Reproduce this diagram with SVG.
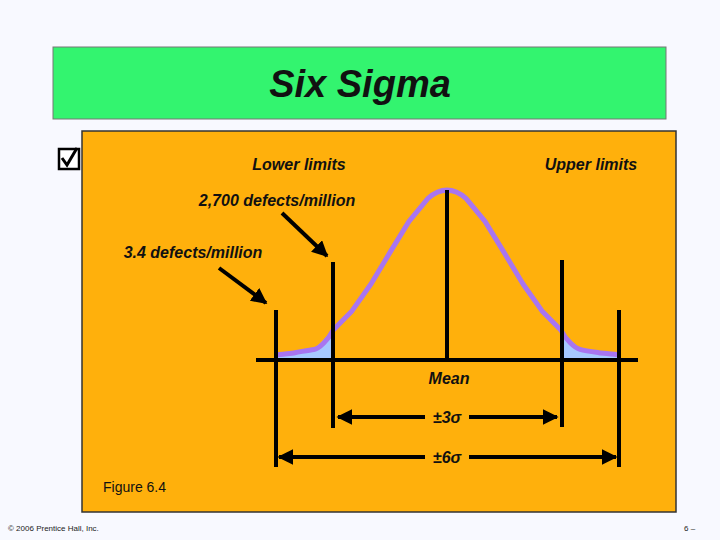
<svg xmlns="http://www.w3.org/2000/svg" width="720" height="540" viewBox="0 0 720 540">
<style>
.t{font-family:"Liberation Sans",Arial,sans-serif;font-weight:bold;font-style:italic;fill:#111}
.ln{stroke:#000;stroke-width:4;fill:none}
</style>
<defs><marker id="ah" viewBox="0 0 10 10" refX="9" refY="5" markerWidth="4" markerHeight="4" orient="auto"><path d="M0,0L10,5L0,10z" fill="#000"/></marker></defs>
<rect width="720" height="540" fill="#f8f9ff"/>
<g id="title"><rect x="53" y="47" width="613" height="72" fill="#33f46f" stroke="#777" stroke-width="1"/>
<text x="360" y="97" class="t" font-size="38" text-anchor="middle">Six Sigma</text></g>
<g id="check"><rect x="59" y="149" width="20" height="20" fill="#fff" stroke="#000" stroke-width="2.5"/><path d="M62,158 L67,165 L77,148" stroke="#000" stroke-width="3" fill="none"/></g>
<g id="panel"><rect x="82" y="131" width="594" height="381" fill="#ffb00c" stroke="#333" stroke-width="1.5"/></g>
<g id="tails" fill="#a6c8ff">
<path d="M276,355 L295,352.7 314,349.4 333,330.3 L333,360 L276,360Z"/>
<path d="M619,355 L599,352.7 580,349.4 561,330.3 L561,360 L619,360Z"/>
</g>
<g id="curve"><path d="M276,355 C281,354 290,353.5 295,352.7 S309,350 314,349.4 S328,340 333,330.3 L352,310.9 371,284 390,252.4 409,221.4 428,198.4 Q447,182 466,198.4 L485,221.4 504,252.4 523,284 542,310.9 561,330.3 C566,340 575,348 580,349.4 S594,352 599,352.7 S614,354 619,355" fill="none" stroke="#a875f0" stroke-width="5" stroke-linejoin="round"/></g>
<g id="connectors">
<line x1="256" y1="360" x2="638" y2="360" class="ln"/>
<line x1="447" y1="190" x2="447" y2="360" class="ln"/>
<line x1="276" y1="310" x2="276" y2="467" class="ln"/>
<line x1="333" y1="262" x2="333" y2="428" class="ln"/>
<line x1="562" y1="260" x2="562" y2="427" class="ln"/>
<line x1="619" y1="310" x2="619" y2="467" class="ln"/>
<line x1="425" y1="417" x2="338" y2="417" class="ln" marker-end="url(#ah)"/>
<line x1="469" y1="417" x2="557" y2="417" class="ln" marker-end="url(#ah)"/>
<line x1="425" y1="457" x2="279" y2="457" class="ln" marker-end="url(#ah)"/>
<line x1="469" y1="457" x2="616" y2="457" class="ln" marker-end="url(#ah)"/>
<line x1="282" y1="213" x2="327" y2="256" class="ln" stroke-width="3" marker-end="url(#ah)"/>
<line x1="219" y1="268" x2="266" y2="303" class="ln" stroke-width="3" marker-end="url(#ah)"/>
</g>
<g id="labels" font-size="16">
<text x="299" y="170" class="t" text-anchor="middle">Lower limits</text>
<text x="591" y="170" class="t" text-anchor="middle">Upper limits</text>
<text x="277" y="206" class="t" text-anchor="middle">2,700 defects/million</text>
<text x="193" y="258" class="t" text-anchor="middle">3.4 defects/million</text>
<text x="449" y="384" class="t" text-anchor="middle">Mean</text>
<text x="447" y="423" class="t" text-anchor="middle" font-style="normal">±3σ</text>
<text x="447" y="463" class="t" text-anchor="middle" font-style="normal">±6σ</text>
</g>
<text x="103" y="492" font-family="Liberation Sans,Arial,sans-serif" font-size="14" fill="#111">Figure 6.4</text>
<text x="8" y="531" font-family="Liberation Sans,Arial,sans-serif" font-size="8" fill="#222">© 2006 Prentice Hall, Inc.</text>
<text x="684" y="531" font-family="Liberation Sans,Arial,sans-serif" font-size="8" fill="#222">6 –</text>
</svg>
